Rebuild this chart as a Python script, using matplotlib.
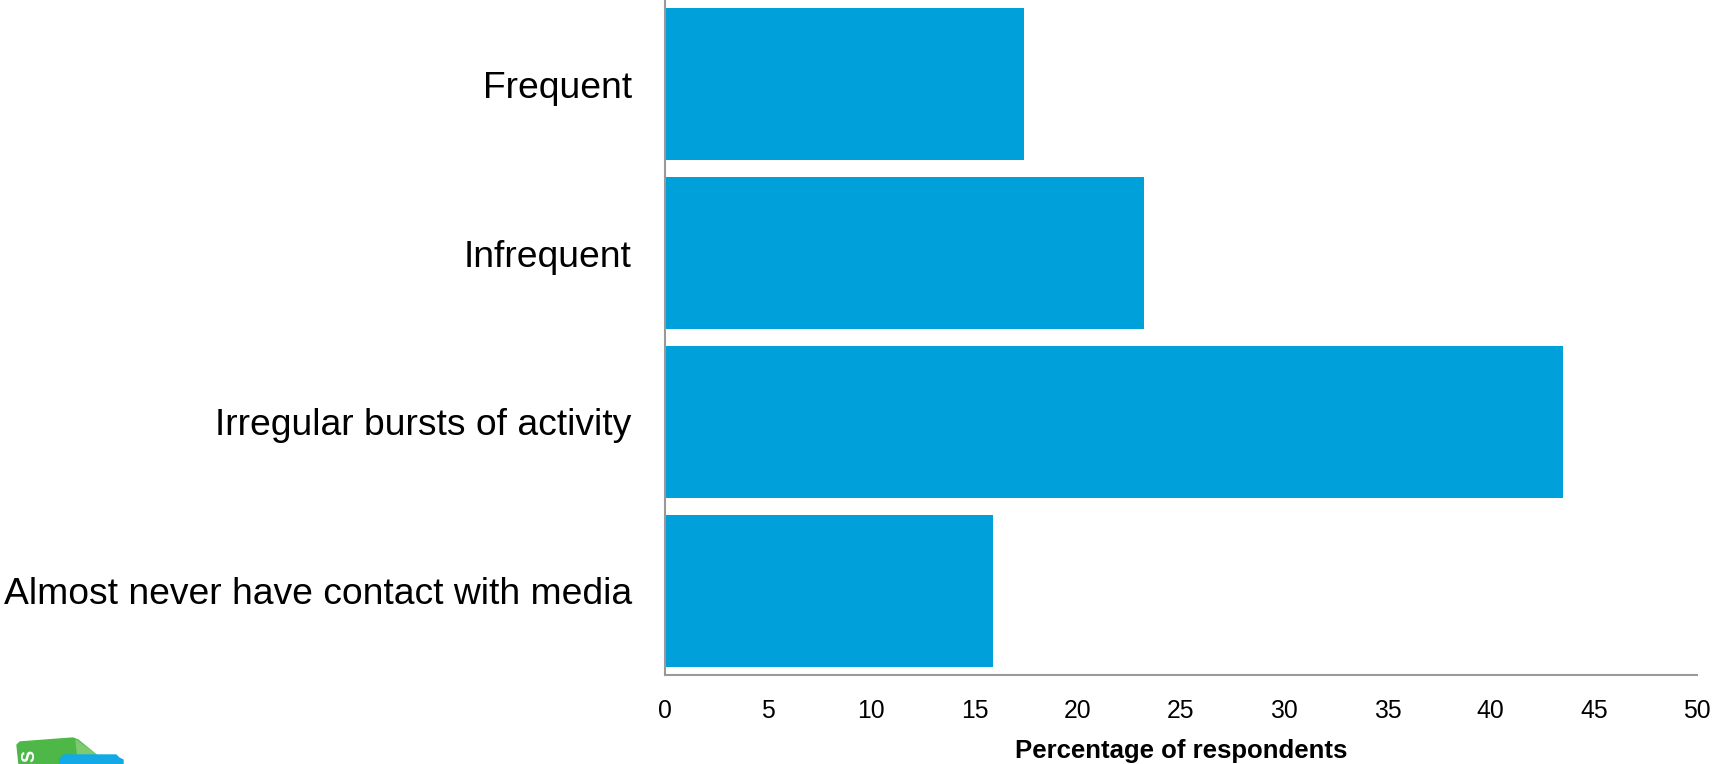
import matplotlib
matplotlib.use("Agg")
import matplotlib.pyplot as plt
from matplotlib.patches import Polygon

plt.rcParams['font.family'] = ['Liberation Sans', 'DejaVu Sans']

categories = ["Almost never have contact with media",
              "Irregular bursts of activity",
              "Infrequent",
              "Frequent"]
values = [15.9, 43.5, 23.2, 17.4]
xticks = [0, 5, 10, 15, 20, 25, 30, 35, 40, 45, 50]

bar_color = "#00A0DA"
spine_color = "#999999"

fig = plt.figure(figsize=(17.13, 7.64), dpi=100)
ax = fig.add_axes([665 / 1713, 89 / 764, 1032 / 1713, 675 / 764])

ax.barh(range(len(categories)), values, height=0.9, color=bar_color)

ax.set_xlim(0, 50)
ax.set_ylim(-0.5, len(categories) - 0.5)
ax.set_xticks(xticks)
ax.set_xticklabels([str(t) for t in xticks], fontsize=17.8)
ax.set_yticks(range(len(categories)))
ax.set_yticklabels(categories, fontsize=26.8)
ax.tick_params(axis='x', length=0, pad=17.5)
ax.tick_params(axis='y', length=0, pad=24)

ax.set_xlabel("Percentage of respondents", fontsize=18.5, fontweight='bold', labelpad=11)

for side in ["top", "right"]:
    ax.spines[side].set_visible(False)
for side in ["left", "bottom"]:
    ax.spines[side].set_color(spine_color)
    ax.spines[side].set_linewidth(1.5)

# partial logo in the bottom-left corner (cut off by the figure edge)
W, H = 1713, 764
def to_fig(pts):
    return [(x / W, 1 - y / H) for x, y in pts]

green = Polygon(to_fig([(17, 745), (20, 742), (73, 738), (78, 740), (100, 758),
                        (100, 764), (19, 764)]),
                closed=True, color="#4DB848", transform=fig.transFigure)
fold = Polygon(to_fig([(76, 740), (78, 758), (100, 758)]), closed=True,
               color="#7CCB6E", transform=fig.transFigure)
blue = Polygon(to_fig([(60, 758), (64, 755), (116, 755), (119, 758), (123, 760),
                       (123, 764), (60, 764)]),
               closed=True, color="#12A9E6", transform=fig.transFigure)
for p in (green, fold, blue):
    fig.add_artist(p)
fig.text(30 / W, 1 - 756 / H, "S", color="white", fontsize=13, fontweight='bold',
         rotation=90, ha='center', va='center')

fig.savefig("out.png", dpi=100)
